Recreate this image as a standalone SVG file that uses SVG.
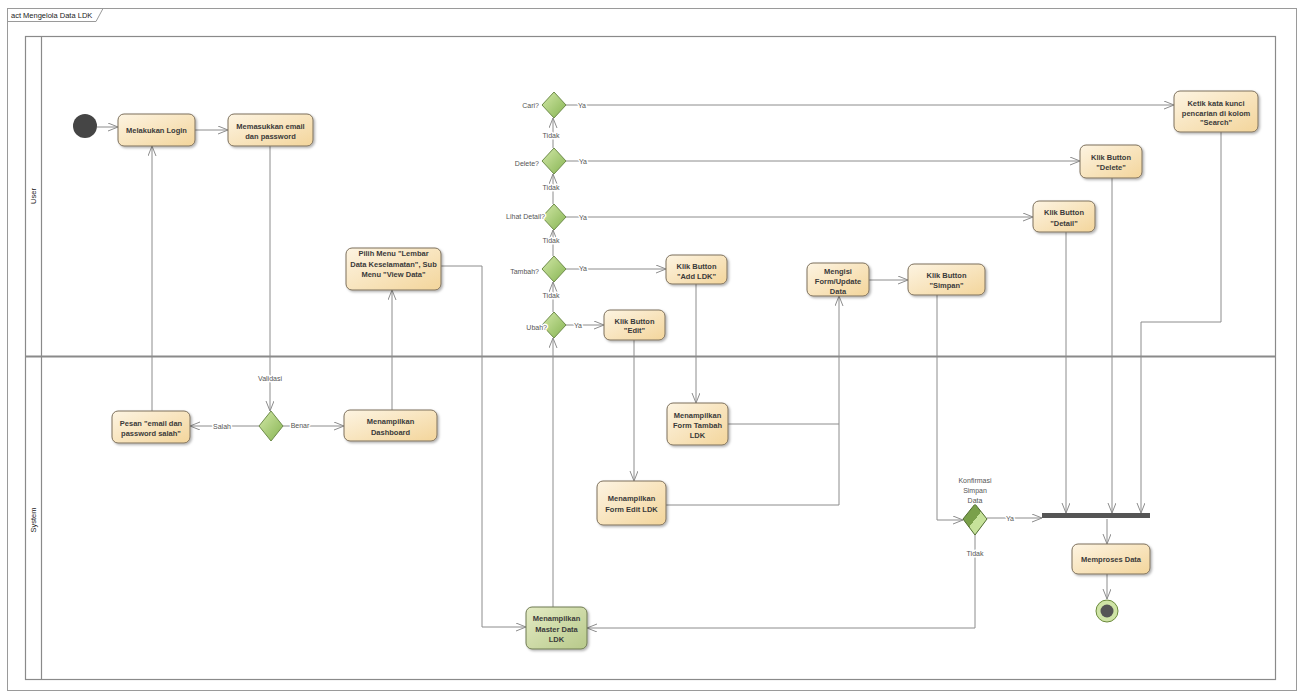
<svg xmlns="http://www.w3.org/2000/svg" width="1303" height="699" viewBox="0 0 1303 699">
<style>
.frame{fill:none;stroke:#9a9a9a;stroke-width:1}
.lane{fill:none;stroke:#8a8a8a;stroke-width:1.2}
.act{fill:url(#gAct);stroke:#7d705c;stroke-width:1;filter:url(#sh)}
.actg{fill:url(#gMaster);stroke:#6f7a52;stroke-width:1;filter:url(#sh)}
.dec{fill:url(#gDec);stroke:#6e8c4a;stroke-width:1}
.t{font-family:"Liberation Sans",Arial,sans-serif;font-size:7.5px;font-weight:bold;fill:#3a3a3a;text-anchor:middle}
.lbl{font-family:"Liberation Sans",Arial,sans-serif;font-size:7px;fill:#555;paint-order:stroke;stroke:#fff;stroke-width:3px;stroke-linejoin:round}
.c{text-anchor:middle}
.e{text-anchor:end}
.cn{fill:none;stroke:#8c8c8c;stroke-width:1;marker-end:url(#arr)}
.cnn{fill:none;stroke:#8c8c8c;stroke-width:1}
.small{font-family:"Liberation Sans",Arial,sans-serif;font-size:7.5px;fill:#222}
</style>
<defs>
<linearGradient id="gAct" x1="0" y1="0" x2="1" y2="1">
<stop offset="0" stop-color="#fdf4e2"/>
<stop offset="1" stop-color="#f3d59b"/>
</linearGradient>
<linearGradient id="gMaster" x1="0" y1="0" x2="1" y2="1">
<stop offset="0" stop-color="#e4ebc4"/>
<stop offset="1" stop-color="#b7c98a"/>
</linearGradient>
<linearGradient id="gDec" x1="0" y1="0" x2="1" y2="1">
<stop offset="0" stop-color="#d3e8a8"/>
<stop offset="1" stop-color="#86b452"/>
</linearGradient>
<linearGradient id="gDec2" x1="0" y1="0" x2="1" y2="1">
<stop offset="0" stop-color="#7aa04a"/>
<stop offset="0.5" stop-color="#7aa04a"/>
<stop offset="0.5" stop-color="#c6e29a"/>
<stop offset="1" stop-color="#c6e29a"/>
</linearGradient>
<filter id="sh" x="-10%" y="-10%" width="130%" height="140%">
<feDropShadow dx="1.5" dy="1.5" stdDeviation="1" flood-color="#000" flood-opacity="0.3"/>
</filter>
<marker id="arr" markerUnits="userSpaceOnUse" markerWidth="12" markerHeight="10" refX="10" refY="4" orient="auto">
<path d="M0,0 L10,4 L0,8" fill="none" stroke="#8c8c8c" stroke-width="1"/>
</marker>
</defs>

<g id="frame">
<rect class="frame" x="7.5" y="8.5" width="1289" height="682"/>
<path class="frame" d="M7.5,21.5 H96 L103,8.5"/>
<text class="small" x="11" y="18">act Mengelola Data LDK</text>
</g>

<g id="lanes">
<rect class="lane" x="25.5" y="36.5" width="1250" height="643"/>
<line class="lane" x1="41.5" y1="36.5" x2="41.5" y2="679.5"/>
<line x1="25.5" y1="356.5" x2="1275.5" y2="356.5" stroke="#8a8a8a" stroke-width="2"/>
<text class="small" transform="translate(36,196) rotate(-90)" text-anchor="middle" font-size="7">User</text>
<text class="small" transform="translate(36,520) rotate(-90)" text-anchor="middle" font-size="7">System</text>
</g>

<g id="connectors">
<path class="cn" d="M97,127 H118"/>
<path class="cn" d="M195,130 H228"/>
<path class="cn" d="M270,146 V411"/>
<path class="cn" d="M259,426 H190"/>
<path class="cn" d="M283,426 H344"/>
<path class="cn" d="M152,411 V146"/>
<path class="cn" d="M392,410 V290"/>
<path class="cn" d="M441,266 H482 V627 H526"/>
<path class="cn" d="M553,607 V338"/>
<path class="cn" d="M566,325 H604"/>
<path class="cn" d="M566,269 H666"/>
<path class="cn" d="M566,217 H1033"/>
<path class="cn" d="M566,161 H1080"/>
<path class="cn" d="M566,105 H1174"/>
<path class="cn" d="M553,312 V282"/>
<path class="cn" d="M553,256 V230"/>
<path class="cn" d="M553,204 V174"/>
<path class="cn" d="M553,148 V118"/>
<path class="cn" d="M634,340 V481"/>
<path class="cn" d="M696,284 V403"/>
<path class="cnn" d="M666,505 H839 V424"/>
<path class="cn" d="M728,424 H839 V296"/>
<path class="cn" d="M869,280 H908"/>
<path class="cn" d="M937,295 V520 H963"/>
<path class="cn" d="M987,518 H1042"/>
<path class="cn" d="M975,535 V628 H587"/>
<path class="cn" d="M1066,232 V513"/>
<path class="cn" d="M1112,178 V513"/>
<path class="cn" d="M1221,132 V322 H1141 V513"/>
<path class="cn" d="M1107,519 V544"/>
<path class="cn" d="M1107,574 V599"/>

<text class="lbl c" x="270" y="381">Validasi</text>
<text class="lbl c" x="222" y="429">Salah</text>
<text class="lbl c" x="300" y="428">Benar</text>
<text class="lbl c" x="582" y="108">Ya</text>
<text class="lbl c" x="583" y="164">Ya</text>
<text class="lbl c" x="583" y="220">Ya</text>
<text class="lbl c" x="583" y="271">Ya</text>
<text class="lbl c" x="578" y="328">Ya</text>
<text class="lbl c" x="551" y="138">Tidak</text>
<text class="lbl c" x="551" y="190">Tidak</text>
<text class="lbl c" x="551" y="243">Tidak</text>
<text class="lbl c" x="551" y="298">Tidak</text>
<text class="lbl c" x="1010" y="521">Ya</text>
<text class="lbl c" x="975" y="556">Tidak</text>
</g>

<g id="start"><circle cx="85" cy="126" r="12" fill="#454545"/></g>

<g id="login"><rect class="act" x="118" y="114" width="77" height="32" rx="6"/>
<text class="t" x="156.5" y="133">Melakukan Login</text></g>

<g id="email"><rect class="act" x="228" y="114" width="85" height="32" rx="6"/>
<text class="t" x="270.5" y="129">Memasukkan email</text>
<text class="t" x="270.5" y="139">dan password</text></g>

<g id="validasi"><polygon class="dec" points="271,411 283,426 271,441 259,426"/></g>

<g id="pesan"><rect class="act" x="112" y="411" width="78" height="32" rx="6"/>
<text class="t" x="151" y="426">Pesan "email dan</text>
<text class="t" x="151" y="436">password salah"</text></g>

<g id="dashboard"><rect class="act" x="344" y="410" width="93" height="31" rx="6"/>
<text class="t" x="390.5" y="424">Menampilkan</text>
<text class="t" x="390.5" y="435">Dashboard</text></g>

<g id="pilihmenu"><rect class="act" x="346" y="248" width="95" height="42" rx="6"/>
<text class="t" x="393.5" y="256">Pilih Menu "Lembar</text>
<text class="t" x="393.5" y="267">Data Keselamatan", Sub</text>
<text class="t" x="393.5" y="277">Menu "View Data"</text></g>

<g id="dCari"><polygon class="dec" points="554,92 566,105 554,118 542,105"/>
<text class="lbl e" x="539" y="108">Cari?</text></g>
<g id="dDelete"><polygon class="dec" points="554,148 566,161 554,174 542,161"/>
<text class="lbl e" x="539" y="166">Delete?</text></g>
<g id="dDetail"><polygon class="dec" points="554,204 566,217 554,230 542,217"/>
<text class="lbl e" x="545" y="219">Lihat Detail?</text></g>
<g id="dTambah"><polygon class="dec" points="554,256 566,269 554,282 542,269"/>
<text class="lbl e" x="539" y="274">Tambah?</text></g>
<g id="dUbah"><polygon class="dec" points="554,312 566,325 554,338 542,325"/>
<text class="lbl e" x="547" y="330">Ubah?</text></g>

<g id="ketik"><rect class="act" x="1174" y="91" width="84" height="41" rx="6"/>
<text class="t" x="1216" y="106">Ketik kata kunci</text>
<text class="t" x="1216" y="116">pencarian di kolom</text>
<text class="t" x="1216" y="125">"Search"</text></g>

<g id="btnDelete"><rect class="act" x="1080" y="145" width="62" height="33" rx="6"/>
<text class="t" x="1111" y="160">Klik Button</text>
<text class="t" x="1111" y="170">"Delete"</text></g>

<g id="btnDetail"><rect class="act" x="1033" y="201" width="62" height="31" rx="6"/>
<text class="t" x="1064" y="215">Klik Button</text>
<text class="t" x="1064" y="226">"Detail"</text></g>

<g id="btnAdd"><rect class="act" x="666" y="255" width="61" height="29" rx="6"/>
<text class="t" x="696.5" y="269">Klik Button</text>
<text class="t" x="696.5" y="279">"Add LDK"</text></g>

<g id="btnEdit"><rect class="act" x="604" y="310" width="61" height="30" rx="6"/>
<text class="t" x="634.5" y="324">Klik Button</text>
<text class="t" x="634.5" y="333">"Edit"</text></g>

<g id="mengisi"><rect class="act" x="807" y="263" width="62" height="33" rx="6"/>
<text class="t" x="838" y="274">Mengisi</text>
<text class="t" x="838" y="284">Form/Update</text>
<text class="t" x="838" y="294">Data</text></g>

<g id="btnSimpan"><rect class="act" x="908" y="264" width="77" height="31" rx="6"/>
<text class="t" x="946.5" y="278">Klik Button</text>
<text class="t" x="946.5" y="288">"Simpan"</text></g>

<g id="formTambah"><rect class="act" x="667" y="403" width="61" height="42" rx="6"/>
<text class="t" x="697.5" y="418">Menampilkan</text>
<text class="t" x="697.5" y="428">Form Tambah</text>
<text class="t" x="697.5" y="438">LDK</text></g>

<g id="formEdit"><rect class="act" x="597" y="481" width="69" height="44" rx="6"/>
<text class="t" x="631.5" y="501">Menampilkan</text>
<text class="t" x="631.5" y="512">Form Edit LDK</text></g>

<g id="master"><rect class="actg" x="526" y="607" width="61" height="42" rx="6"/>
<text class="t" x="556.5" y="621">Menampilkan</text>
<text class="t" x="556.5" y="632">Master Data</text>
<text class="t" x="556.5" y="642">LDK</text></g>

<g id="konfirmasi"><polygon points="975,504 987,519 975,535 963,519" fill="url(#gDec2)" stroke="#4f6b2e" stroke-width="1"/>
<text class="lbl c" x="975" y="483">Konfirmasi</text>
<text class="lbl c" x="975" y="493">Simpan</text>
<text class="lbl c" x="975" y="503">Data</text></g>

<g id="fork"><rect x="1042" y="513" width="108" height="5" fill="#555"/></g>

<g id="memproses"><rect class="act" x="1072" y="544" width="78" height="30" rx="6"/>
<text class="t" x="1111" y="562">Memproses Data</text></g>

<g id="end"><circle cx="1107" cy="611" r="11" fill="#cfe4a6" stroke="#6b8a3c" stroke-width="1"/>
<circle cx="1107" cy="611" r="6.5" fill="#555"/></g>
</svg>
